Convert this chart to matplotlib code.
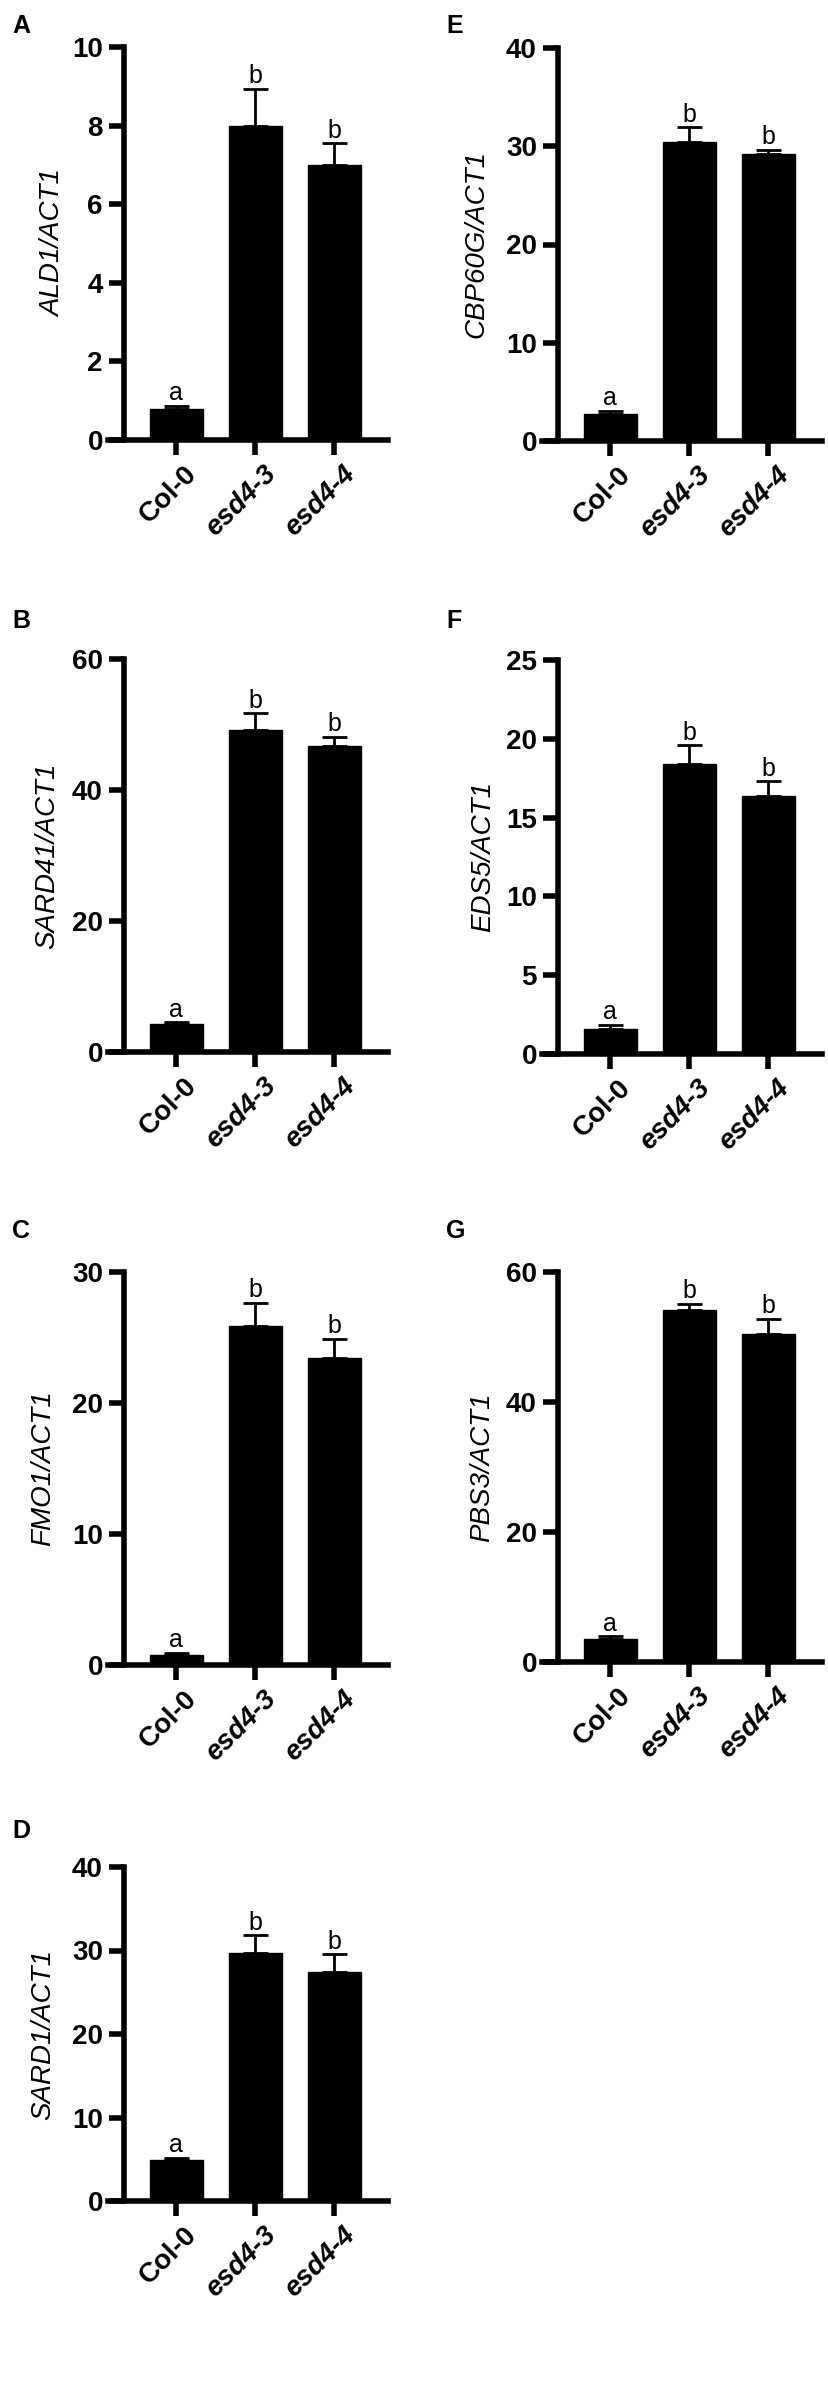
import numpy as np
import matplotlib
matplotlib.use('Agg')
import matplotlib.pyplot as plt
import matplotlib.transforms as mtransforms

plt.rcParams['font.family'] = ['Liberation Sans', 'DejaVu Sans']

# genotypes and significance groups
genotypes = ['Col-0', 'esd4-3', 'esd4-4']
sig_letters = ['a', 'b', 'b']

# relative expression (mean, upper error)
ald1_mean = [0.78, 8.0, 7.0]
ald1_err = [0.09, 0.93, 0.55]
sard4_mean = [4.2, 49.2, 46.7]
sard4_err = [0.35, 2.5, 1.4]
fmo1_mean = [0.8, 25.85, 23.45]
fmo1_err = [0.13, 1.8, 1.45]
sard1_mean = [4.88, 29.7, 27.4]
sard1_err = [0.28, 2.1, 2.15]
cbp60g_mean = [2.75, 30.45, 29.25]
cbp60g_err = [0.3, 1.5, 0.4]
eds5_mean = [1.57, 18.4, 16.4]
eds5_err = [0.3, 1.2, 0.9]
pbs3_mean = [3.6, 54.2, 50.5]
pbs3_err = [0.35, 0.9, 2.3]

W, H = 829, 2387
fig = plt.figure(figsize=(W / 100, H / 100), dpi=100)


def px_axes(left, top, right, bottom):
    return fig.add_axes([left / W, 1 - bottom / H, (right - left) / W, (bottom - top) / H])


def draw_panel(ax, mean, err, ymax, ystep, ylabel, label_x):
    x = np.arange(len(genotypes))
    ax.bar(x, mean, width=0.67, color='black', edgecolor='black', zorder=2)
    ax.errorbar(x, mean, yerr=[np.zeros(len(err)), err], fmt='none', ecolor='black',
                elinewidth=2, capsize=9, capthick=2, zorder=3, clip_on=False)
    for xi, m, e, s in zip(x, mean, err, sig_letters):
        ax.annotate(s, (xi, m + e), xytext=(0, 4), textcoords='offset points',
                    ha='center', va='baseline', fontsize=18)

    ax.set_xlim(-0.86, 2.68)
    ax.set_ylim(0, ymax)
    ax.set_yticks(np.arange(0, ymax + ystep / 2, ystep))
    ax.spines[['top', 'right']].set_visible(False)
    ax.spines['left'].set_position(('data', -0.66))
    for sp in ['left', 'bottom']:
        ax.spines[sp].set_linewidth(4)
    ax.tick_params(axis='both', width=4, length=11, labelsize=20, pad=4)

    ax.set_xticks(x)
    ax.set_xticklabels(genotypes, rotation=45, ha='right', rotation_mode='anchor')
    shift = mtransforms.ScaledTranslation(8 / 100, 0, fig.dpi_scale_trans)
    for i, t in enumerate(ax.get_xticklabels()):
        t.set_fontweight('bold')
        if i > 0:
            t.set_fontstyle('italic')
        t.set_transform(t.get_transform() + shift)
    for t in ax.get_yticklabels():
        t.set_fontweight('bold')

    ax.text(label_x, 0.5, ylabel, transform=ax.transAxes, rotation=90,
            ha='center', va='center', fontsize=20, fontstyle='italic')


# layout in pixels: letter, (left, top, right, bottom), letter baseline, ylabel x
panels = [
    ('A', (108, 47, 388, 440), 33, 53, ald1_mean, ald1_err, 10, 2, 'ALD1/ACT1'),
    ('B', (108, 659, 388, 1052), 628, 47, sard4_mean, sard4_err, 60, 20, 'SARD41/ACT1'),
    ('C', (108, 1272, 388, 1665), 1238, 43, fmo1_mean, fmo1_err, 30, 10, 'FMO1/ACT1'),
    ('D', (108, 1867, 388, 2201), 1838, 43, sard1_mean, sard1_err, 40, 10, 'SARD1/ACT1'),
    ('E', (542, 48, 822, 441), 33, 476, cbp60g_mean, cbp60g_err, 40, 10, 'CBP60G/ACT1'),
    ('F', (542, 660, 822, 1054), 628, 483, eds5_mean, eds5_err, 25, 5, 'EDS5/ACT1'),
    ('G', (542, 1272, 822, 1662), 1238, 482, pbs3_mean, pbs3_err, 60, 20, 'PBS3/ACT1'),
]

for letter, rect, base_y, lab_px, mean, err, ymax, ystep, ylabel in panels:
    left, top, right, bottom = rect
    ax = px_axes(left, top, right, bottom)
    draw_panel(ax, mean, err, ymax, ystep, ylabel, (lab_px - left) / (right - left))
    fig.text((left - 96) / W, 1 - base_y / H, letter, fontsize=18, fontweight='bold',
             ha='left', va='baseline')

fig.savefig('out.png', dpi=100)
